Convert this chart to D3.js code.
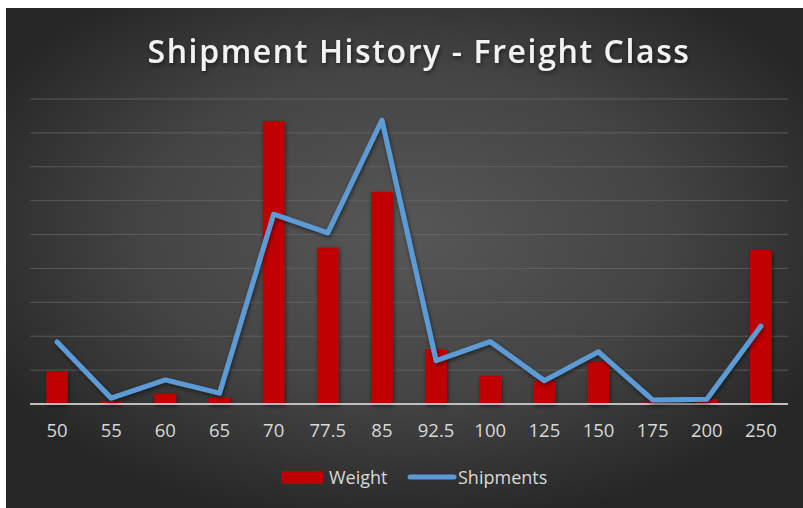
<!DOCTYPE html>
<html lang="en">

<head>
    <meta charset="UTF-8">
    <title>Shipment History - Freight Class</title>
    <style>
        body { margin: 0; background: #fff; }
    </style>
</head>

<body>
    <script type="text/javascript" src="https://cdn.jsdelivr.net/npm/d3@7"></script>
    <script type="text/javascript">
    var classes = ["50", "55", "60", "65", "70", "77.5", "85", "92.5", "100", "125", "150", "175", "200", "250"];
    var weight = [0.97, 0.09, 0.32, 0.19, 8.35, 4.62, 6.26, 1.61, 0.83, 0.68, 1.25, 0.05, 0.15, 4.54];
    var shipments = [1.83, 0.17, 0.71, 0.32, 5.6, 5.05, 8.38, 1.28, 1.84, 0.69, 1.54, 0.12, 0.14, 2.3];
    var gridTicks = d3.range(1, 10);

    var w = 803,
        h = 508,
        plotLeft = 30,
        plotRight = 788,
        plotBase = 404,
        plotTop = 99;

    var svg = d3.select("body")
        .append("svg")
        .attr("width", w)
        .attr("height", h);

    var defs = svg.append("defs");
    var grad = defs.append("radialGradient")
        .attr("id", "bg")
        .attr("cx", "50%").attr("cy", "45%").attr("r", "60%");
    grad.append("stop").attr("offset", "0%").attr("stop-color", "#575757");
    grad.append("stop").attr("offset", "55%").attr("stop-color", "#444444");
    grad.append("stop").attr("offset", "100%").attr("stop-color", "#262626");

    var shadow = defs.append("filter").attr("id", "shadow")
        .attr("x", "-20%").attr("y", "-20%").attr("width", "140%").attr("height", "140%");
    shadow.append("feDropShadow")
        .attr("dx", 1).attr("dy", 2).attr("stdDeviation", 2)
        .attr("flood-color", "#000").attr("flood-opacity", 0.55);

    svg.append("rect")
        .attr("x", 6).attr("y", 8)
        .attr("width", w - 6).attr("height", h - 8)
        .attr("fill", "url(#bg)");

    var step = (plotRight - plotLeft) / classes.length;
    var x = d3.scalePoint()
        .domain(classes)
        .range([plotLeft + step / 2, plotRight - step / 2]);

    var y = d3.scaleLinear()
        .domain([0, 9])
        .range([plotBase, plotTop]);

    // gridlines
    svg.append("g")
        .selectAll("line")
        .data(gridTicks)
        .enter()
        .append("line")
        .attr("x1", plotLeft).attr("x2", plotRight)
        .attr("y1", function(d) { return y(d); })
        .attr("y2", function(d) { return y(d); })
        .attr("stroke", "#6a6a6a")
        .attr("stroke-opacity", 0.7)
        .attr("stroke-width", 1);

    // bars
    var barW = step * 0.4;
    svg.append("g")
        .attr("filter", "url(#shadow)")
        .selectAll("rect")
        .data(weight)
        .enter()
        .append("rect")
        .attr("x", function(d, i) { return x(classes[i]) - barW / 2; })
        .attr("y", function(d) { return y(d); })
        .attr("width", barW)
        .attr("height", function(d) { return plotBase - y(d); })
        .attr("fill", "#c00000");

    // baseline
    svg.append("line")
        .attr("x1", plotLeft).attr("x2", plotRight)
        .attr("y1", plotBase).attr("y2", plotBase)
        .attr("stroke", "#bfbfbf")
        .attr("stroke-width", 2);

    // shipments line
    var line = d3.line()
        .x(function(d, i) { return x(classes[i]); })
        .y(function(d) { return y(d); });

    svg.append("path")
        .datum(shipments)
        .attr("d", line)
        .attr("fill", "none")
        .attr("stroke", "#5b9bd5")
        .attr("stroke-width", 5)
        .attr("stroke-linejoin", "round")
        .attr("stroke-linecap", "round")
        .attr("filter", "url(#shadow)");

    // x axis labels
    svg.append("g")
        .selectAll("text")
        .data(classes)
        .enter()
        .append("text")
        .text(function(d) { return d; })
        .attr("x", function(d) { return x(d); })
        .attr("y", 437)
        .attr("text-anchor", "middle")
        .attr("font-family", "Open Sans, sans-serif")
        .attr("font-size", "18.5px")
        .attr("fill", "#d9d9d9");

    // title
    svg.append("text")
        .text("Shipment History - Freight Class")
        .attr("x", 419)
        .attr("y", 63)
        .attr("text-anchor", "middle")
        .attr("font-family", "Open Sans, sans-serif")
        .attr("font-weight", "600")
        .attr("font-size", "32px")
        .attr("letter-spacing", "1.6px")
        .attr("fill", "#f2f2f2")
        .attr("filter", "url(#shadow)");

    // legend
    var legend = svg.append("g");
    legend.append("rect")
        .attr("x", 282).attr("y", 471)
        .attr("width", 41).attr("height", 13)
        .attr("fill", "#c00000");
    legend.append("text")
        .text("Weight")
        .attr("x", 329).attr("y", 484)
        .attr("font-family", "Open Sans, sans-serif")
        .attr("font-size", "18px")
        .attr("fill", "#d9d9d9");
    legend.append("line")
        .attr("x1", 410).attr("x2", 454)
        .attr("y1", 477).attr("y2", 477)
        .attr("stroke", "#5b9bd5")
        .attr("stroke-width", 5)
        .attr("stroke-linecap", "round");
    legend.append("text")
        .text("Shipments")
        .attr("x", 458).attr("y", 484)
        .attr("font-family", "Open Sans, sans-serif")
        .attr("font-size", "18px")
        .attr("fill", "#d9d9d9");
    </script>
</body>

</html>
